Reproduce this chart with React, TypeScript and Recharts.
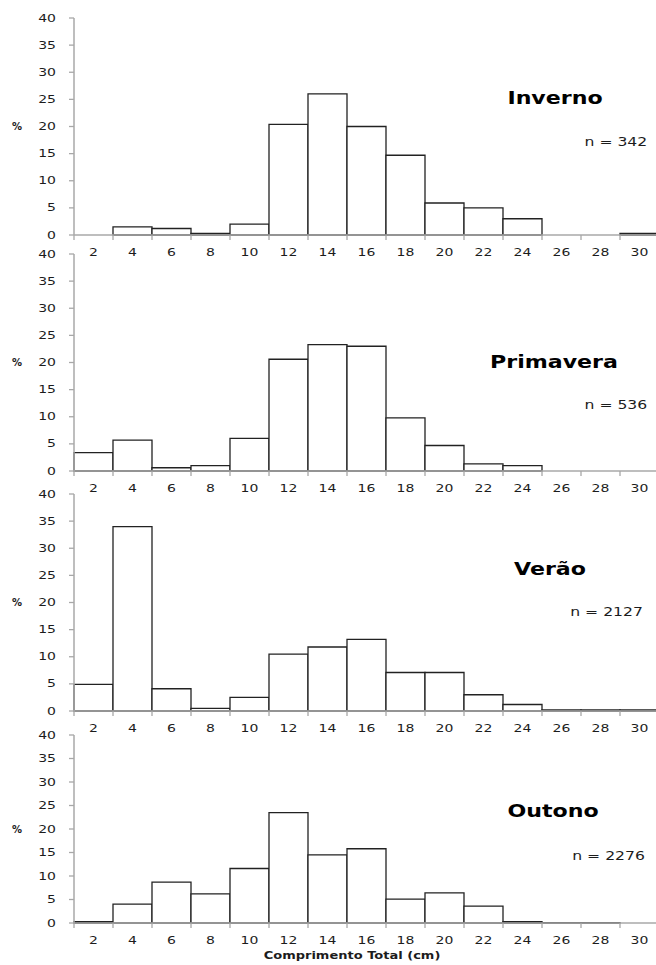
import React from "react";
import { BarChart, Bar, XAxis, YAxis } from "recharts";

// comprimento total (cm), classes de 2 cm
const bins = ["2", "4", "6", "8", "10", "12", "14", "16", "18", "20", "22", "24", "26", "28", "30"];
const inverno = [0, 1.5, 1.2, 0.3, 2.0, 20.4, 26.0, 20.0, 14.7, 5.9, 5.0, 3.0, 0, 0, 0.3];
const primavera = [3.4, 5.7, 0.6, 1.0, 6.0, 20.6, 23.3, 23.0, 9.8, 4.7, 1.3, 1.0, 0, 0, 0];
const verao = [4.9, 34.0, 4.1, 0.5, 2.5, 10.5, 11.8, 13.2, 7.1, 7.1, 3.0, 1.2, 0.2, 0.2, 0.2];
const outono = [0.3, 4.0, 8.7, 6.2, 11.6, 23.5, 14.5, 15.8, 5.1, 6.4, 3.6, 0.3, 0.1, 0.1, 0];
const yTicks = [0, 5, 10, 15, 20, 25, 30, 35, 40];

const CHART_W = 660;
const PLOT_LEFT = 74;
const PLOT_RIGHT = 659;
const BAND = (PLOT_RIGHT - PLOT_LEFT) / bins.length;
const AXIS_GRAY = "#a8a8a8";
const INK = "#1c1c1c";
const FONT = "'DejaVu Sans', Verdana, sans-serif";
const STRETCH = 1.4;

function XTick(props: any) {
  const { x, y, payload, index } = props;
  const left = x - BAND / 2;
  const last = index === bins.length - 1;
  return (
    <g>
      <line x1={left} x2={left} y1={y} y2={y + 5} stroke={AXIS_GRAY} strokeWidth={1.3} />
      {last && (
        <line x1={x + BAND / 2} x2={x + BAND / 2} y1={y} y2={y + 5} stroke={AXIS_GRAY} strokeWidth={1.3} />
      )}
      <text
        x={0}
        y={0}
        transform={`translate(${x} ${y + 21}) scale(${STRETCH} 1)`}
        textAnchor="middle"
        fontSize={10}
        fontFamily={FONT}
        fill={INK}
      >
        {payload.value}
      </text>
    </g>
  );
}

function YTick(props: any) {
  const { x, y, payload } = props;
  return (
    <g>
      <line x1={x - 5} x2={x} y1={y} y2={y} stroke={AXIS_GRAY} strokeWidth={1.3} />
      <text
        x={0}
        y={0}
        transform={`translate(${x - 18} ${y + 3.5}) scale(${STRETCH} 1)`}
        textAnchor="end"
        fontSize={10}
        fontFamily={FONT}
        fill={INK}
      >
        {payload.value}
      </text>
    </g>
  );
}

interface PanelProps {
  values: number[];
  top: number; // plot top (value 40)
  bottom: number; // x axis line
}

function Panel({ values, top, bottom }: PanelProps) {
  const data = bins.map((b, i) => ({ bin: b, v: values[i] }));
  const padTop = 12;
  const axisH = 28;
  return (
    <div style={{ position: "absolute", left: 0, top: top - padTop }}>
      <BarChart
        width={CHART_W}
        height={bottom - top + padTop + axisH}
        data={data}
        margin={{ top: padTop, right: CHART_W - PLOT_RIGHT, bottom: 0, left: 0 }}
        barCategoryGap={0}
        barGap={0}
      >
        <XAxis
          dataKey="bin"
          interval={0}
          height={axisH}
          tickLine={false}
          tickSize={0}
          tickMargin={0}
          tick={<XTick />}
          axisLine={{ stroke: AXIS_GRAY, strokeWidth: 1.5 }}
        />
        <YAxis
          width={PLOT_LEFT}
          domain={[0, 40]}
          ticks={yTicks}
          interval={0}
          tickLine={false}
          tickSize={0}
          tickMargin={0}
          tick={<YTick />}
          axisLine={{ stroke: AXIS_GRAY, strokeWidth: 1.5 }}
          label={{
            value: "%",
            position: "insideLeft",
            offset: 12,
            style: { fontSize: 10, fontWeight: 700, fontFamily: FONT, fill: INK },
          }}
        />
        <Bar dataKey="v" fill="#ffffff" stroke="#222222" strokeWidth={1.3} isAnimationActive={false} />
      </BarChart>
    </div>
  );
}

function Title({ text, cx, cy }: { text: string; cx: number; cy: number }) {
  return (
    <div
      style={{
        position: "absolute",
        left: cx,
        top: cy,
        transform: "translate(-50%, -50%) scaleX(1.3)",
        fontFamily: FONT,
        fontWeight: 700,
        fontSize: 17,
        lineHeight: 1,
        whiteSpace: "nowrap",
        color: "#000",
      }}
    >
      {text}
    </div>
  );
}

function NLabel({ text, rx, cy }: { text: string; rx: number; cy: number }) {
  return (
    <div
      style={{
        position: "absolute",
        right: 656 - rx,
        top: cy,
        transformOrigin: "right center",
        transform: "translateY(-50%) scaleX(1.3)",
        fontFamily: FONT,
        fontSize: 12,
        lineHeight: 1,
        whiteSpace: "nowrap",
        color: INK,
      }}
    >
      {text}
    </div>
  );
}

export default function App() {
  return (
    <div
      style={{
        position: "absolute",
        left: 0,
        top: 0,
        width: 656,
        height: 965,
        overflow: "hidden",
        background: "#fff",
      }}
    >
      <Panel values={inverno} top={18} bottom={235} />
      <Panel values={primavera} top={254} bottom={471} />
      <Panel values={verao} top={494} bottom={711} />
      <Panel values={outono} top={735} bottom={923} />

      <Title text="Inverno" cx={555} cy={98} />
      <NLabel text="n = 342" rx={647} cy={142} />
      <Title text="Primavera" cx={554} cy={362} />
      <NLabel text="n = 536" rx={647} cy={405} />
      <Title text="Verão" cx={550} cy={569} />
      <NLabel text="n = 2127" rx={643} cy={612} />
      <Title text="Outono" cx={553} cy={811} />
      <NLabel text="n = 2276" rx={645} cy={856} />

      <div
        style={{
          position: "absolute",
          left: 352,
          top: 956,
          transform: "translate(-50%, -50%) scaleX(1.3)",
          fontFamily: FONT,
          fontWeight: 700,
          fontSize: 10,
          lineHeight: 1,
          whiteSpace: "nowrap",
          color: INK,
        }}
      >
        Comprimento Total (cm)
      </div>
    </div>
  );
}
